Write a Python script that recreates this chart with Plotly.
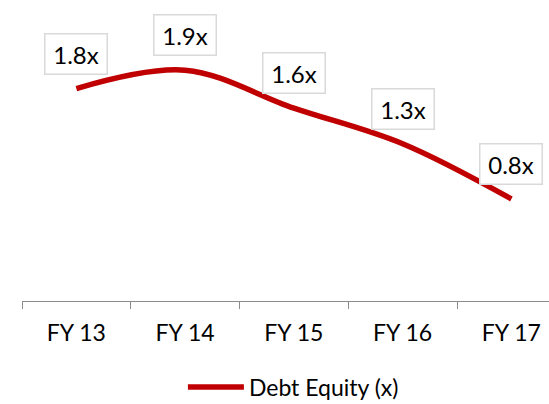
import plotly.graph_objects as go

# Data
categories = ["FY 13", "FY 14", "FY 15", "FY 16", "FY 17"]
debt_equity = [1.76, 1.92, 1.59, 1.28, 0.80]
series_name = "Debt Equity (x)"
labels = [f"{v:.1f}x" for v in debt_equity]

RED = "#C00000"
FONT = "Lato"

fig = go.Figure()
fig.add_trace(go.Scatter(
    x=categories, y=debt_equity, mode="lines", name=series_name,
    line=dict(color=RED, width=5.5, shape="spline", smoothing=1),
    hoverinfo="skip",
))

for c, v, t in zip(categories, debt_equity, labels):
    fig.add_annotation(
        x=c, y=v, text=t, showarrow=False, yshift=35,
        xanchor="center", yanchor="middle",
        font=dict(family=FONT, size=24, color="#000000"),
        bgcolor="#FFFFFF", bordercolor="#D9D9D9", borderwidth=1.5,
        borderpad=1, width=59, height=37,
    )

fig.update_layout(
    width=549, height=404, autosize=False,
    margin=dict(l=22, r=0, t=0, b=103, autoexpand=False),
    paper_bgcolor="#FFFFFF", plot_bgcolor="#FFFFFF",
    font=dict(family=FONT, size=23, color="#000000"),
    showlegend=True,
    legend=dict(orientation="h", x=0.515, xanchor="center", y=-0.286, yanchor="middle",
                font=dict(family=FONT, size=23, color="#000000"),
                itemwidth=56, bgcolor="rgba(0,0,0,0)"),
    xaxis=dict(
        type="category", range=[-0.5, 4.346], automargin=False,
        showline=True, linecolor="#8C8C8C", linewidth=1.2,
        ticks="outside", tickson="boundaries", ticklen=7, tickcolor="#8C8C8C", tickwidth=1.2,
        ticklabelstandoff=11,
        showgrid=False, zeroline=False,
        tickfont=dict(family=FONT, size=23, color="#000000"),
    ),
    yaxis=dict(range=[-0.087, 2.53], visible=False, showgrid=False, zeroline=False,
               automargin=False),
)

fig.write_html("out.html", config={"displayModeBar": False},
               post_script="document.body.style.margin='0';")
